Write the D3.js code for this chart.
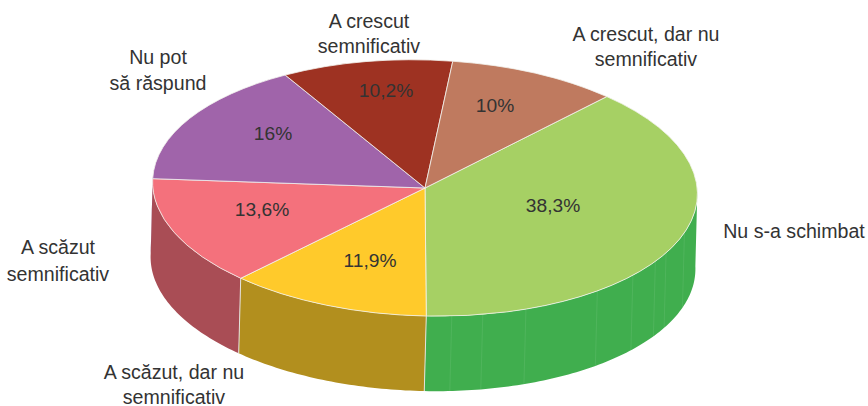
<!DOCTYPE html>
<html><head><meta charset="utf-8">
<script src="https://cdn.jsdelivr.net/npm/d3@7"></script>
<style>html,body{margin:0;padding:0;background:#fff}svg{display:block}
text{font-family:"Liberation Sans",Arial,sans-serif;fill:#333}</style></head>
<body><svg id="c" width="868" height="406"></svg>
<script>
const categories = ["Nu s-a schimbat","A scăzut, dar nu semnificativ","A scăzut semnificativ","Nu pot să răspund","A crescut semnificativ","A crescut, dar nu semnificativ"];
const values = [38.3,11.9,13.6,16,10.2,10];
const valueLabels = ["38,3%","11,9%","13,6%","16%","10,2%","10%"];
const topColors = ["#a6d064","#ffca2b","#f4717c","#a064aa","#9e3222","#bf7a5f"];
const sideColors = ["#40ae4e","#b28f1e","#a94d55","#7d4e85","#7b2719","#955f4a"];
const greenSeamsDeg = [107,117,121.5,129.5,140,157.5,167,173.6];
const categoryLines = [["Nu s-a schimbat"],["A scăzut, dar nu","semnificativ"],["A scăzut","semnificativ"],["Nu pot","să răspund"],["A crescut","semnificativ"],["A crescut, dar nu","semnificativ"]];

const cx=425,cy=188,rx=272.5,ry=128,depth=75,shift=-2,tiltDeg=1.6;
const rad=d3.scaleLinear().domain([0,360]).range([0,2*Math.PI]);
const start=rad(41.1),tilt=rad(tiltDeg);
const svg=d3.select("#c");
const arcs=d3.pie().sort(null).startAngle(start).endAngle(start+2*Math.PI)(values);

const ex=a=>rx*Math.sin(a), ey=a=>-ry*Math.cos(a);
const px=a=>cx+ex(a)*Math.cos(tilt)-ey(a)*Math.sin(tilt);
const py=a=>cy+ex(a)*Math.sin(tilt)+ey(a)*Math.cos(tilt);
const wallLine=d3.line();
function wallPath(a0,a1){
  const n=Math.max(2,Math.ceil((a1-a0)/rad(1)));
  const s=d3.range(n+1).map(i=>a0+(a1-a0)*i/n);
  const upper=s.map(a=>[px(a),py(a)]);
  const lower=s.slice().reverse().map(a=>[px(a)+shift,py(a)+depth]);
  return wallLine(upper.concat(lower))+"Z";
}
// side walls: only the front part is visible
const vis0=rad(88),vis1=rad(272);
const walls=svg.append("g");
arcs.forEach((d,i)=>{
  const a0=Math.max(d.startAngle,vis0),a1=Math.min(d.endAngle,vis1);
  if(a1>a0) walls.append("path").attr("d",wallPath(a0,a1)).attr("fill",sideColors[i]);
});
// slice seams on walls + faint facet seams on the green wall
const seam=(a,c,w)=>walls.append("line")
  .attr("x1",px(a)).attr("y1",py(a)).attr("x2",px(a)+shift).attr("y2",py(a)+depth)
  .attr("stroke",c).attr("stroke-width",w);
greenSeamsDeg.forEach(a=>seam(rad(a),"rgba(255,255,255,0.1)",0.8));
arcs.forEach(d=>{const a=d.startAngle; if(a>vis0&&a<rad(269)) seam(a,"#e4e4dc",1);});

// top face
const topFace=svg.append("g").attr("transform",`translate(${cx},${cy}) rotate(${tiltDeg}) scale(1,${ry/rx})`);
const arc=d3.arc().innerRadius(0).outerRadius(rx);
topFace.selectAll("path").data(arcs).join("path")
  .attr("d",arc).attr("fill",(d,i)=>topColors[i])
  .attr("stroke","#f2f2ee").attr("stroke-width",0.8)
  .attr("vector-effect","non-scaling-stroke").attr("stroke-linejoin","round");

// value labels
const valuePos=[[553,212],[370,267],[262,216],[273,140],[386,97],[495,112]];
svg.append("g").selectAll("text").data(valueLabels).join("text")
  .attr("x",(d,i)=>valuePos[i][0]).attr("y",(d,i)=>valuePos[i][1])
  .attr("text-anchor","middle").attr("font-size",19.2).text(d=>d);

// category labels
const catPos=[[794,238],[174,379],[58,254],[158,64],[369,28],[646,41]];
const catStep=[0,25,27,26,25,25];
categoryLines.forEach((ls,i)=>{
  ls.forEach((l,j)=>{
    svg.append("text").attr("x",catPos[i][0]).attr("y",catPos[i][1]+j*catStep[i])
      .attr("text-anchor","middle").attr("font-size",19.6).text(l);
  });
});
</script></body></html>
